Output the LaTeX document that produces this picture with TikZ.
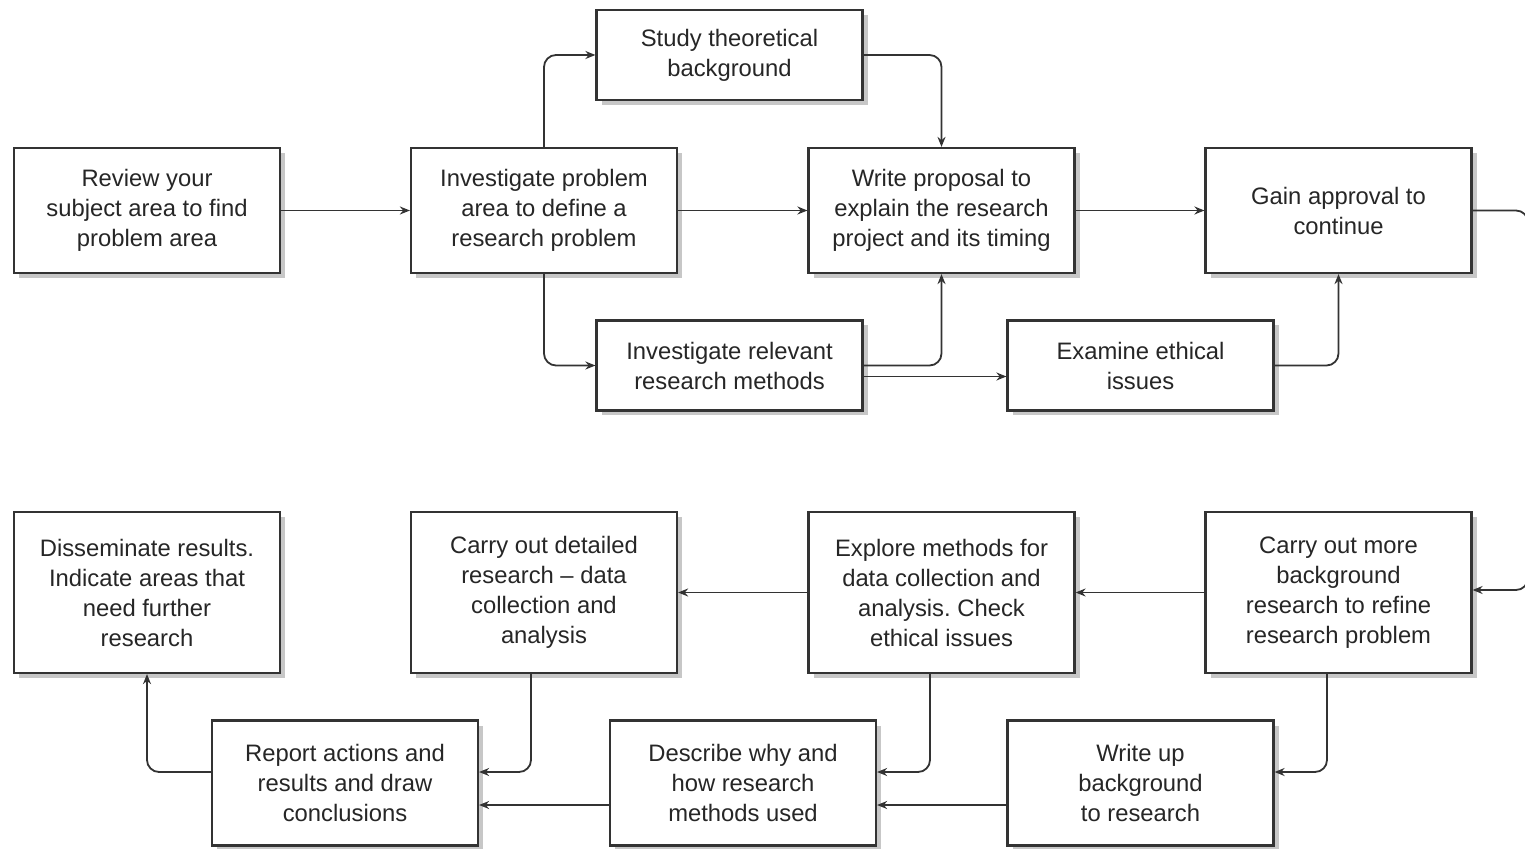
\documentclass[tikz,border=0pt]{standalone}
\usepackage{fontspec}
\setmainfont{Liberation Sans}
\usetikzlibrary{shadows,arrows.meta}
\frenchspacing
\begin{document}
\begin{tikzpicture}[x=0.5pt,y=-0.5pt,
  box/.style={draw=black!80, line width=1.1pt, fill=white, align=center, inner sep=0pt,
    minimum width=133pt, text=black!85,
    font=\fontsize{11.9}{15}\selectfont,
    drop shadow={shadow xshift=2.5pt, shadow yshift=-2.5pt, fill=black!22, opacity=1}},
  tall/.style={minimum height=62.5pt},
  short/.style={minimum height=45pt},
  big/.style={minimum height=80.5pt},
  arr/.style={draw=black!80, line width=0.9pt, rounded corners=6pt, -{Stealth[length=5pt,width=4pt]}}]
\useasboundingbox (0,0) rectangle (1525,849);
% row 1
\node[box,tall] (review) at (147,210.5) {Review your\\subject area to find\\problem area};
\node[box,tall] (invprob) at (544,210.5) {Investigate problem\\area to define a\\research problem};
\node[box,short] (study) at (729.5,55) {Study theoretical\\background};
\node[box,tall] (write) at (941.5,210.5) {Write proposal to\\explain the research\\project and its timing};
\node[box,tall] (gain) at (1338.5,210.5) {Gain approval to\\continue};
\node[box,short] (invrel) at (729.5,365.5) {Investigate relevant\\research methods};
\node[box,short] (ethic) at (1140.5,365.5) {Examine ethical\\issues};
% row 2
\node[box,big] (dissem) at (147,592.5) {Disseminate results.\\Indicate areas that\\need further\\research};
\node[box,big] (detail) at (544,592.5) {Carry out detailed\\research -- data\\collection and\\analysis};
\node[box,big] (explore) at (941.5,592.5) {Explore methods for\\data collection and\\analysis. Check\\ethical issues};
\node[box,big] (more) at (1338.5,592.5) {Carry out more\\background\\research to refine\\research problem};
\node[box,tall] (report) at (345,783) {Report actions and\\results and draw\\conclusions};
\node[box,tall] (describe) at (743,783) {Describe why and\\how research\\methods used};
\node[box,tall] (writeup) at (1140.5,783) {Write up\\background\\to research};
% connectors row 1
\draw[arr] (review.east) -- (invprob.west);
\draw[arr] (invprob.east) -- (write.west);
\draw[arr] (write.east) -- (gain.west);
\draw[arr] (invprob.north) |- (study.west);
\draw[arr] (study.east) -| (write.north);
\draw[arr] (invprob.south) |- (invrel.west);
\draw[arr] (invrel.east) -| (write.south);
\draw[arr] ([yshift=-5.5pt]invrel.east) -- ([yshift=-5.5pt]ethic.west);
\draw[arr] (ethic.east) -| (gain.south);
% link between rows (runs off the right edge)
\coordinate (edgeT) at (1528,210.5);
\coordinate (edgeB) at (1528,590);
\draw[arr] (gain.east) -- (edgeT) -- (edgeB) -- (more.east |- edgeB);
% connectors row 2
\draw[arr] (more.west) -- (explore.east);
\draw[arr] (explore.west) -- (detail.east);
\draw[arr] ([xshift=-5.75pt]more.south) |- ([yshift=5.5pt]writeup.east);
\draw[arr] ([xshift=-5.75pt]explore.south) |- ([yshift=5.5pt]describe.east);
\draw[arr] ([xshift=-6.5pt]detail.south) |- ([yshift=5.5pt]report.east);
\draw[arr] ([yshift=-11pt]writeup.west) -- ([yshift=-11pt]describe.east);
\draw[arr] ([yshift=-11pt]describe.west) -- ([yshift=-11pt]report.east);
\draw[arr] ([yshift=5.5pt]report.west) -| (dissem.south);
\end{tikzpicture}
\end{document}
